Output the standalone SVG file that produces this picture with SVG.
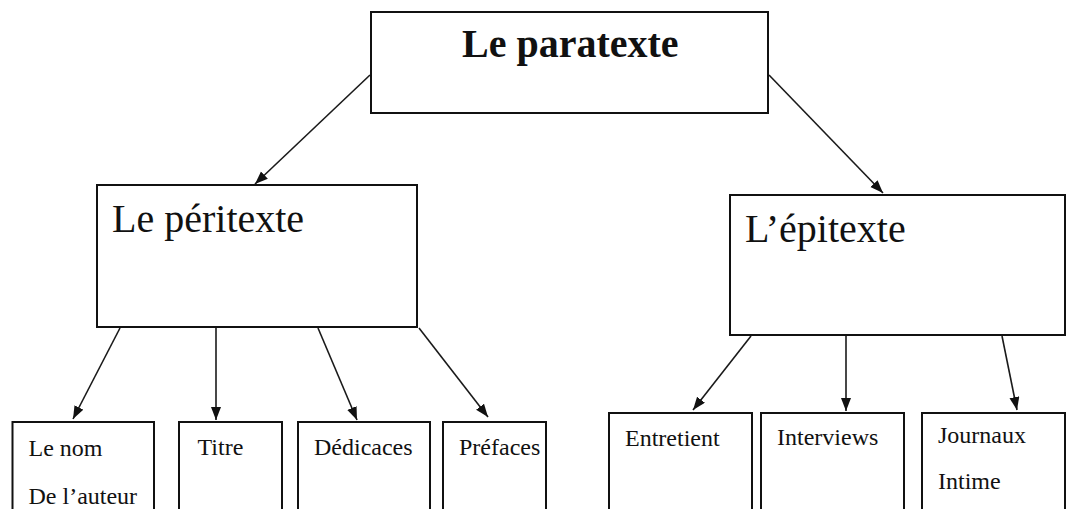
<svg xmlns="http://www.w3.org/2000/svg" width="1068" height="509" viewBox="0 0 1068 509">
  <defs>
    <marker id="arrow" markerUnits="userSpaceOnUse" markerWidth="14" markerHeight="12" refX="13" refY="5" orient="auto">
      <path d="M0,0 L13,5 L0,10 Z" fill="#111"/>
    </marker>
    <style>
      .box { fill: #fff; stroke: #111; stroke-width: 2; }
      .conn { stroke: #1a1a1a; stroke-width: 1.6; fill: none; marker-end: url(#arrow); }
      .t { font-family: "Liberation Serif", "Times New Roman", serif; fill: #111; }
      .title { font-size: 40px; font-weight: bold; }
      .mid { font-size: 40px; }
      .leaf { font-size: 24px; }
    </style>
  </defs>
  <rect width="1068" height="509" fill="#fff"/>

  <g id="connectors">
    <line class="conn" x1="370" y1="75" x2="255" y2="184"/>
    <line class="conn" x1="769" y1="75" x2="883" y2="193"/>
    <line class="conn" x1="120" y1="328" x2="73" y2="419"/>
    <line class="conn" x1="216" y1="328" x2="216" y2="420"/>
    <line class="conn" x1="318" y1="328" x2="357" y2="420"/>
    <line class="conn" x1="419" y1="328" x2="488" y2="417"/>
    <line class="conn" x1="751" y1="336" x2="693" y2="410"/>
    <line class="conn" x1="846" y1="336" x2="846" y2="411"/>
    <line class="conn" x1="1002" y1="336" x2="1017" y2="410"/>
  </g>

  <g id="node-paratexte">
    <rect class="box" x="371" y="12" width="397" height="101"/>
    <text class="t title" x="462" y="57">Le paratexte</text>
  </g>

  <g id="node-peritexte">
    <rect class="box" x="97" y="185" width="320" height="142"/>
    <text class="t mid" x="112" y="232">Le péritexte</text>
  </g>

  <g id="node-epitexte">
    <rect class="box" x="730" y="195" width="335" height="140"/>
    <text class="t mid" x="745" y="242">L’épitexte</text>
  </g>

  <g id="node-nom">
    <rect class="box" x="12.5" y="422" width="141.5" height="100"/>
    <text class="t leaf" x="28.5" y="456">Le nom</text>
    <text class="t leaf" x="28.5" y="504">De l’auteur</text>
  </g>

  <g id="node-titre">
    <rect class="box" x="179" y="422" width="103" height="100"/>
    <text class="t leaf" x="197.5" y="455">Titre</text>
  </g>

  <g id="node-dedicaces">
    <rect class="box" x="298" y="422" width="132" height="100"/>
    <text class="t leaf" x="314" y="455">Dédicaces</text>
  </g>

  <g id="node-prefaces">
    <rect class="box" x="443" y="422" width="103" height="100"/>
    <text class="t leaf" x="459" y="455">Préfaces</text>
  </g>

  <g id="node-entretient">
    <rect class="box" x="609" y="413" width="143" height="110"/>
    <text class="t leaf" x="625" y="446">Entretient</text>
  </g>

  <g id="node-interviews">
    <rect class="box" x="761" y="413" width="143" height="110"/>
    <text class="t leaf" x="777" y="445">Interviews</text>
  </g>

  <g id="node-journaux">
    <rect class="box" x="922" y="413" width="143" height="110"/>
    <text class="t leaf" x="938" y="443">Journaux</text>
    <text class="t leaf" x="938" y="489">Intime</text>
  </g>
</svg>
